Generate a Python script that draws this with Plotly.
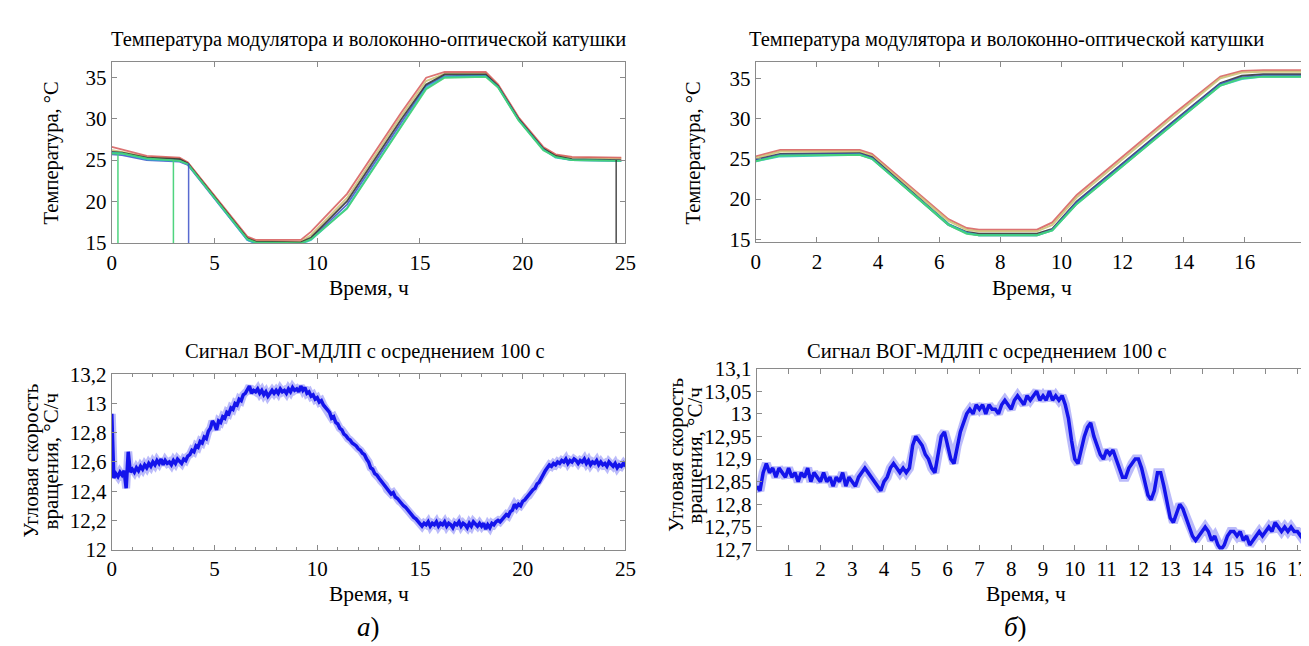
import plotly.graph_objects as go

W, H = 1309, 646
FONT = "'Liberation Serif', 'DejaVu Serif', 'Times New Roman', serif"

# ---------------- Top-left: temperatures (a) ----------------
tA = [0, 0.5, 1.7, 3.3, 3.7, 6.6, 7.0, 9.2, 9.7, 11.45, 14.1, 15.3, 16.2, 18.2, 18.8, 19.8, 21.0, 21.6, 22.4, 24.8]
tempA = {
    "yellow": [26.2, 26.0, 25.4, 25.2, 24.7, 15.6, 15.2, 15.1, 15.9, 20.4, 30.4, 34.6, 35.5, 35.6, 34.1, 30.1, 26.5, 25.6, 25.3, 25.2],
    "red":    [26.6, 26.3, 25.5, 25.3, 24.7, 15.7, 15.3, 15.3, 16.3, 20.9, 30.8, 35.0, 35.7, 35.7, 34.2, 30.2, 26.6, 25.7, 25.4, 25.3],
    "blue":   [25.7, 25.6, 25.0, 24.8, 24.4, 15.3, 14.9, 14.9, 15.4, 19.6, 29.6, 34.0, 35.2, 35.3, 33.9, 29.9, 26.3, 25.4, 25.0, 24.9],
    "black":  [26.0, 25.9, 25.3, 25.1, 24.6, 15.5, 15.1, 15.0, 15.6, 20.0, 30.0, 34.2, 35.4, 35.4, 34.0, 30.0, 26.4, 25.5, 25.1, 25.0],
    "cyan":   [25.9, 25.8, 25.1, 24.9, 24.5, 15.3, 14.9, 14.8, 15.3, 19.2, 29.2, 33.8, 35.1, 35.2, 33.9, 29.9, 26.3, 25.3, 25.0, 24.9],
    "green":  [25.8, 25.8, 25.2, 24.9, 24.5, 15.4, 15.0, 14.9, 15.4, 19.1, 29.1, 33.6, 35.0, 35.1, 33.8, 29.8, 26.2, 25.4, 25.0, 24.9],
}
drop_t = [0.3, 3.0, 3.74, 24.55]
drop_from = [25.85, 25.0, 24.6, 25.0]
drop_to = [0, 0, 0, 0]
drop_color = ["green", "green", "blue", "black"]

# ---------------- Top-right: temperatures (b) ----------------
tB = [0, 0.8, 3.4, 3.8, 6.3, 6.9, 7.3, 9.2, 9.7, 10.5, 13.65, 15.2, 15.9, 16.6, 18.0]
tempB = {
    "red":    [25.3, 26.1, 26.1, 25.6, 17.5, 16.4, 16.2, 16.2, 17.1, 20.5, 30.5, 35.2, 35.9, 36.0, 36.0],
    "yellow": [25.1, 25.9, 25.9, 25.4, 17.3, 16.2, 16.0, 16.0, 16.8, 20.2, 30.2, 35.0, 35.7, 35.8, 35.8],
    "black":  [24.9, 25.6, 25.7, 25.2, 16.9, 15.9, 15.7, 15.7, 16.3, 19.7, 29.6, 34.4, 35.3, 35.5, 35.5],
    "blue":   [24.8, 25.5, 25.6, 25.1, 16.8, 15.8, 15.5, 15.5, 16.2, 19.6, 29.5, 34.3, 35.1, 35.3, 35.3],
    "cyan":   [24.7, 25.3, 25.5, 25.0, 16.9, 15.8, 15.5, 15.5, 16.1, 19.4, 29.3, 34.1, 34.9, 35.2, 35.2],
    "green":  [24.7, 25.4, 25.5, 25.0, 16.8, 15.7, 15.5, 15.5, 16.1, 19.4, 29.3, 34.1, 35.0, 35.2, 35.2],
}

# ---------------- Bottom-left: gyro signal (a), 0.1 h sampling ----------------
dtA = 0.1
sigA = [
    12.93, 12.49, 12.52, 12.50, 12.53, 12.51, 12.54, 12.42, 12.67, 12.53,
    12.55, 12.53, 12.56, 12.54, 12.57, 12.55, 12.58, 12.56, 12.59, 12.57,
    12.60, 12.58, 12.61, 12.59, 12.62, 12.58, 12.61, 12.59, 12.60, 12.58,
    12.61, 12.59, 12.62, 12.60, 12.59, 12.62, 12.61, 12.64, 12.65, 12.68,
    12.67, 12.71, 12.70, 12.74, 12.73, 12.77, 12.76, 12.81, 12.83, 12.88,
    12.86, 12.82, 12.88, 12.87, 12.91, 12.90, 12.94, 12.93, 12.97, 12.96,
    13.00, 12.99, 13.03, 13.02, 13.06, 13.07, 13.09, 13.12, 13.07, 13.09,
    13.08, 13.10, 13.07, 13.09, 13.06, 13.08, 13.05, 13.07, 13.09, 13.07,
    13.09, 13.07, 13.10, 13.08, 13.09, 13.07, 13.10, 13.08, 13.11, 13.09,
    13.10, 13.08, 13.12, 13.09, 13.11, 13.07, 13.08, 13.05, 13.06, 13.03,
    13.04, 13.01, 13.02, 12.99, 12.97, 12.95, 12.94, 12.90, 12.91, 12.87,
    12.86, 12.83, 12.82, 12.79, 12.78, 12.76, 12.75, 12.73, 12.72, 12.71,
    12.69, 12.68, 12.66, 12.65, 12.62, 12.60, 12.56, 12.55, 12.52, 12.51,
    12.49, 12.47, 12.46, 12.44, 12.41, 12.40, 12.38, 12.39, 12.36, 12.35,
    12.33, 12.32, 12.30, 12.29, 12.27, 12.25, 12.24, 12.22, 12.21, 12.19,
    12.18, 12.16, 12.18, 12.17, 12.19, 12.16, 12.18, 12.17, 12.19, 12.16,
    12.18, 12.17, 12.19, 12.16, 12.18, 12.17, 12.15, 12.18, 12.17, 12.19,
    12.16, 12.18, 12.17, 12.15, 12.18, 12.16, 12.19, 12.17, 12.16, 12.18,
    12.16, 12.18, 12.14, 12.17, 12.15, 12.18, 12.17, 12.19, 12.20, 12.19,
    12.21, 12.22, 12.24, 12.23, 12.26, 12.27, 12.31, 12.29, 12.31, 12.30,
    12.33, 12.34, 12.36, 12.37, 12.39, 12.41, 12.42, 12.45, 12.46, 12.49,
    12.51, 12.54, 12.56, 12.58, 12.57, 12.59, 12.58, 12.60, 12.59, 12.61,
    12.60, 12.62, 12.59, 12.61, 12.60, 12.62, 12.61, 12.59, 12.61, 12.60,
    12.62, 12.59, 12.61, 12.58, 12.60, 12.59, 12.61, 12.58, 12.60, 12.58,
    12.59, 12.57, 12.60, 12.58, 12.57, 12.59, 12.56, 12.58, 12.57, 12.59,
    12.57,
]

# ---------------- Bottom-right: gyro signal (b), 0.1 h sampling ----------------
dtB = 0.1
sigB = [
    12.84, 12.83, 12.87, 12.89, 12.87, 12.88, 12.86, 12.88, 12.87, 12.86,
    12.88, 12.86, 12.87, 12.85, 12.87, 12.86, 12.88, 12.85, 12.87, 12.86,
    12.85, 12.87, 12.85, 12.86, 12.84, 12.86, 12.85, 12.87, 12.84, 12.86,
    12.85, 12.84, 12.86, 12.87, 12.88, 12.87, 12.86, 12.85, 12.84, 12.83,
    12.85, 12.86, 12.88, 12.89, 12.88, 12.87, 12.88, 12.87, 12.88, 12.93,
    12.95, 12.94, 12.93, 12.91, 12.90, 12.88, 12.87, 12.91, 12.95, 12.96,
    12.93, 12.90, 12.89, 12.93, 12.96, 12.98, 13.00, 13.01, 13.00, 13.02,
    13.01, 13.02, 13.00, 13.02, 13.01, 13.01, 13.00, 13.02, 13.03, 13.02,
    13.01, 13.03, 13.04, 13.03, 13.02, 13.04, 13.03, 13.04, 13.05, 13.03,
    13.04, 13.03, 13.05, 13.03, 13.04, 13.03, 13.04, 13.02, 12.99, 12.94,
    12.90, 12.89, 12.92, 12.95, 12.97, 12.98, 12.95, 12.93, 12.91, 12.90,
    12.92, 12.91, 12.92, 12.90, 12.88, 12.86, 12.86, 12.88, 12.89, 12.90,
    12.90, 12.88, 12.85, 12.82, 12.81, 12.83, 12.87, 12.87, 12.84, 12.80,
    12.77, 12.76, 12.78, 12.80, 12.79, 12.77, 12.75, 12.73, 12.72, 12.73,
    12.74, 12.75, 12.74, 12.72, 12.73, 12.71, 12.70, 12.71, 12.73, 12.74,
    12.74, 12.73, 12.74, 12.72, 12.73, 12.71, 12.72, 12.73, 12.74, 12.73,
    12.74, 12.75, 12.74, 12.76, 12.75, 12.74, 12.75, 12.74, 12.75, 12.74,
    12.74, 12.73, 12.74, 12.73,
]

# ---------------- Tick labels ----------------
yticksA_bottom = [12.0, 12.2, 12.4, 12.6, 12.8, 13.0, 13.2]
ytextA_bottom = ["12", "12,2", "12,4", "12,6", "12,8", "13", "13,2"]
yticksB_bottom = [12.7, 12.75, 12.8, 12.85, 12.9, 12.95, 13.0, 13.05, 13.1]
ytextB_bottom = ["12,7", "12,75", "12,8", "12,85", "12,9", "12,95", "13", "13,05", "13,1"]
xticksB_bottom = list(range(1, 18))

COLORS = {
    "red": "rgba(214,90,90,0.85)",
    "yellow": "rgba(205,195,120,0.9)",
    "black": "rgba(45,45,45,0.85)",
    "blue": "rgba(60,80,200,0.85)",
    "cyan": "rgba(40,190,200,0.85)",
    "green": "rgba(70,210,120,0.95)",
}
SIG_COLOR = "rgb(20,20,235)"
SIG_HALO = "rgba(60,60,240,0.35)"


def px_x(a, b):
    return [a / W, min(b / W, 1.0)]


def px_y(top, bottom):
    return [1 - bottom / H, 1 - top / H]


fig = go.Figure()

# top-left
for name, vals in tempA.items():
    fig.add_trace(go.Scatter(x=tA, y=vals, mode="lines", line=dict(color=COLORS[name], width=1.8),
                             xaxis="x", yaxis="y", showlegend=False, hoverinfo="skip"))
for t, a, b, c in zip(drop_t, drop_from, drop_to, drop_color):
    fig.add_trace(go.Scatter(x=[t, t], y=[a, b], mode="lines", line=dict(color=COLORS[c], width=1.5),
                             xaxis="x", yaxis="y", showlegend=False, hoverinfo="skip"))
# top-right
for name, vals in tempB.items():
    fig.add_trace(go.Scatter(x=tB, y=vals, mode="lines", line=dict(color=COLORS[name], width=2.0),
                             xaxis="x2", yaxis="y2", showlegend=False, hoverinfo="skip"))
# bottom-left
xA = [round(i * dtA, 2) for i in range(len(sigA))]
fig.add_trace(go.Scatter(x=xA, y=sigA, mode="lines", line=dict(color=SIG_HALO, width=8),
                         xaxis="x3", yaxis="y3", showlegend=False, hoverinfo="skip"))
fig.add_trace(go.Scatter(x=xA, y=sigA, mode="lines", line=dict(color=SIG_COLOR, width=3.5),
                         xaxis="x3", yaxis="y3", showlegend=False, hoverinfo="skip"))
# bottom-right
xB = [round(i * dtB, 2) for i in range(len(sigB))]
fig.add_trace(go.Scatter(x=xB, y=sigB, mode="lines", line=dict(color=SIG_HALO, width=9),
                         xaxis="x4", yaxis="y4", showlegend=False, hoverinfo="skip"))
fig.add_trace(go.Scatter(x=xB, y=sigB, mode="lines", line=dict(color=SIG_COLOR, width=3.5),
                         xaxis="x4", yaxis="y4", showlegend=False, hoverinfo="skip"))

AX = dict(showgrid=False, zeroline=False, showline=True, linecolor="#8a8a8a", linewidth=1,
          ticks="inside", ticklen=5, tickcolor="#8a8a8a",
          tickfont=dict(family=FONT, size=21, color="black"))

fig.update_layout(
    width=W, height=H, margin=dict(l=0, r=0, t=0, b=0),
    paper_bgcolor="white", plot_bgcolor="white",
    xaxis=dict(AX, domain=px_x(100, 620), range=[0, 25], tickvals=[0, 5, 10, 15, 20, 25],
               mirror="allticks", anchor="y"),
    yaxis=dict(AX, domain=px_y(44, 232), range=[14.88, 36.87], tickvals=[15, 20, 25, 30, 35],
               mirror="allticks", anchor="x"),
    xaxis2=dict(AX, domain=px_x(752, 1309), range=[0, 18.0], tickvals=[0, 2, 4, 6, 8, 10, 12, 14, 16],
                mirror="allticks", anchor="y2"),
    yaxis2=dict(AX, domain=px_y(44, 231), range=[14.62, 36.97], tickvals=[15, 20, 25, 30, 35],
                mirror=False, anchor="x2"),
    xaxis3=dict(AX, domain=px_x(100, 620), range=[0, 25], tickvals=[0, 5, 10, 15, 20, 25],
                minor=dict(dtick=1, ticks="inside", ticklen=3, tickcolor="#8a8a8a"),
                mirror="allticks", anchor="y3"),
    yaxis3=dict(AX, domain=px_y(368, 550), range=[12.0, 13.2], tickvals=yticksA_bottom,
                ticktext=ytextA_bottom, mirror="allticks", anchor="x3"),
    xaxis4=dict(AX, domain=px_x(753, 1309), range=[0, 17.27], tickvals=xticksB_bottom,
                mirror="allticks", anchor="y4"),
    yaxis4=dict(AX, domain=px_y(362, 550), range=[12.7, 13.1], tickvals=yticksB_bottom,
                ticktext=ytextB_bottom, mirror=False, anchor="x4"),
)


def ann(text, x, y, size=19, angle=0):
    fig.add_annotation(text=text, x=x / W, y=1 - y / H, xref="paper", yref="paper",
                       showarrow=False, textangle=angle, xanchor="center", yanchor="middle",
                       font=dict(family=FONT, size=size, color="black"))


TITLE_T = "Температура модулятора и волоконно-оптической катушки"
TITLE_S = "Сигнал ВОГ-МДЛП с осреднением 100 с"
ann(TITLE_T, 360, 20, size=20.5)
ann(TITLE_T, 1006, 20, size=20.5)
ann(TITLE_S, 356, 344, size=20.5)
ann(TITLE_S, 986, 344, size=20.5)
ann("Время, ч", 360, 278, size=21.5)
ann("Время, ч", 1032, 278, size=21.5)
ann("Время, ч", 360, 596, size=21.5)
ann("Время, ч", 1026, 596, size=21.5)
ann("Температура, °С", 39, 138, size=20.5, angle=-90)
ann("Температура, °С", 689, 138, size=20.5, angle=-90)
ann("Угловая скорость", 18, 458, size=21, angle=-90)
ann("вращения, °С/ч", 38, 458, size=21, angle=-90)
ann("Угловая скорость", 671, 452, size=21, angle=-90)
ann("вращения, °С/ч", 691, 452, size=21, angle=-90)
ann("<i>а</i>)", 360, 630, size=27)
ann("<i>б</i>)", 1015, 630, size=27)

fig.write_html("out.html")
